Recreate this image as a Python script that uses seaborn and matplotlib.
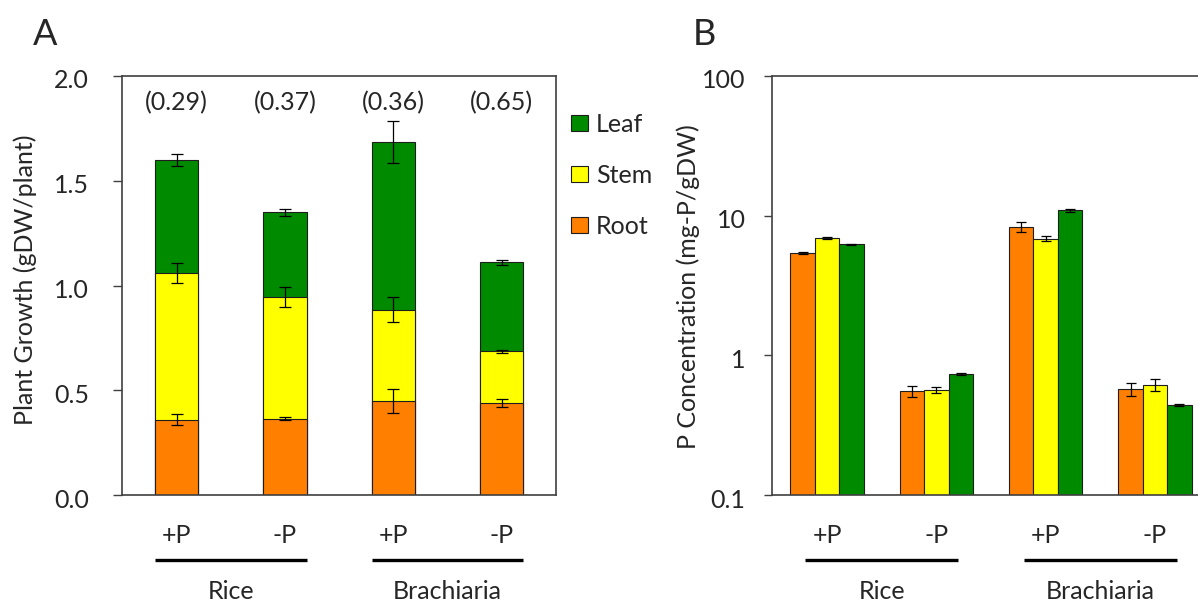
import numpy as np
import pandas as pd
import matplotlib
matplotlib.use("Agg")
import matplotlib.pyplot as plt
from matplotlib.patches import Patch
from matplotlib.transforms import ScaledTranslation
import seaborn as sns

# ---------------- data ----------------
conditions = ["Rice +P", "Rice -P", "Brachiaria +P", "Brachiaria -P"]
treatment_labels = ["+P", "-P", "+P", "-P"]
species = ["Rice", "Brachiaria"]
tissues = ["Root", "Stem", "Leaf"]

# Plant growth (gDW/plant) per tissue
growth_root = [0.36, 0.365, 0.45, 0.44]
growth_stem = [0.70, 0.58, 0.435, 0.245]
growth_leaf = [0.54, 0.405, 0.80, 0.425]
growth_root_err = [0.025, 0.009, 0.058, 0.02]
growth_stem_err = [0.048, 0.05, 0.06, 0.007]
growth_leaf_err = [0.029, 0.016, 0.10, 0.013]
root_shoot_ratio = ["(0.29)", "(0.37)", "(0.36)", "(0.65)"]

# P concentration (mg-P/gDW) per tissue
pconc_root = [5.4, 0.554, 8.3, 0.571]
pconc_stem = [6.95, 0.567, 6.84, 0.616]
pconc_leaf = [6.25, 0.738, 10.9, 0.439]
pconc_root_err = [0.08, 0.05, 0.7, 0.06]
pconc_stem_err = [0.10, 0.03, 0.27, 0.064]
pconc_leaf_err = [0.06, 0.01, 0.3, 0.008]

tissue_colors = {"Root": "#FF7F00", "Stem": "#FFFF00", "Leaf": "#008A00"}

# ---------------- style ----------------
sns.set_style("white")
plt.rcParams["font.family"] = ["Lato", "DejaVu Sans"]
FS = 18
EDGE = "#1e1e1e"
SPINE = "#404040"

W, H = 1198, 602
fig = plt.figure(figsize=(W / 100, H / 100), dpi=100)


def px_rect(left, top, right, bottom):
    return [left / W, 1 - bottom / H, (right - left) / W, (bottom - top) / H]


axA = fig.add_axes(px_rect(122.5, 76, 555.7, 495))
axB = fig.add_axes(px_rect(772.4, 76, 1209.6, 495))

err_kw = dict(fmt="none", ecolor="black", elinewidth=0.9, capthick=0.9, zorder=5)

# ---------------- panel A: stacked growth ----------------
dfA = pd.DataFrame({"condition": conditions,
                    "Root": growth_root, "Stem": growth_stem, "Leaf": growth_leaf})
dfA["Root_top"] = dfA["Root"]
dfA["Stem_top"] = dfA["Root_top"] + dfA["Stem"]
dfA["Leaf_top"] = dfA["Stem_top"] + dfA["Leaf"]
growth_err = {"Root": growth_root_err, "Stem": growth_stem_err, "Leaf": growth_leaf_err}

# draw cumulative totals from the tallest layer down so each segment shows
for tissue in ["Leaf", "Stem", "Root"]:
    sns.barplot(data=dfA, x="condition", y=f"{tissue}_top", order=conditions,
                color=tissue_colors[tissue], width=0.4, saturation=1,
                edgecolor=EDGE, linewidth=0.8, errorbar=None, ax=axA)
    bars = axA.containers[-1]
    centers = [p.get_x() + p.get_width() / 2 for p in bars]
    axA.errorbar(centers, dfA[f"{tissue}_top"], yerr=growth_err[tissue],
                 capsize=4.1, **err_kw)

axA.set_xlim(-0.5, len(conditions) - 0.5)
axA.set_ylim(0, 2.0)
axA.set_yticks([0, 0.5, 1.0, 1.5, 2.0])
axA.set_yticklabels([f"{v:.1f}" for v in [0, 0.5, 1.0, 1.5, 2.0]])
axA.set_xlabel("")
axA.set_ylabel("Plant Growth (gDW/plant)", fontsize=FS, va="center")
axA.yaxis.set_label_coords((25 - 122.5) / 433.2, 0.513)

for i, txt in enumerate(root_shoot_ratio):
    axA.text(i, 0.9356, txt, transform=axA.get_xaxis_transform(),
             ha="center", va="center", fontsize=FS)

legend_handles = [Patch(facecolor=tissue_colors[t], edgecolor=EDGE, linewidth=0.8, label=t)
                  for t in ["Leaf", "Stem", "Root"]]
axA.legend(handles=legend_handles, loc="upper left",
           bbox_to_anchor=(570.7 / W, 1 - 113 / H), bbox_transform=fig.transFigure,
           frameon=False, fontsize=FS, handlelength=0.68, handleheight=0.64,
           handletextpad=0.32, labelspacing=1.12, borderpad=0, borderaxespad=0)

# ---------------- panel B: P concentration (log) ----------------
dfB = pd.DataFrame({
    "condition": conditions * 3,
    "tissue": np.repeat(tissues, len(conditions)),
    "conc": pconc_root + pconc_stem + pconc_leaf,
    "err": pconc_root_err + pconc_stem_err + pconc_leaf_err,
})
axB.set_yscale("log")
sns.barplot(data=dfB, x="condition", y="conc", hue="tissue", order=conditions,
            hue_order=tissues, palette=tissue_colors, width=0.67, saturation=1,
            edgecolor=EDGE, linewidth=0.8, errorbar=None, legend=False, ax=axB)
for tissue, bars in zip(tissues, list(axB.containers)):
    sub = dfB[dfB["tissue"] == tissue].set_index("condition").loc[conditions]
    patches = sorted(bars, key=lambda p: p.get_x())
    centers = [p.get_x() + p.get_width() / 2 for p in patches]
    axB.errorbar(centers, sub["conc"], yerr=sub["err"], capsize=3.85, **err_kw)

axB.set_xlim(-0.5, len(conditions) - 0.5)
axB.set_ylim(0.1, 100)
axB.set_yticks([0.1, 1, 10, 100])
axB.set_yticklabels(["0.1", "1", "10", "100"])
axB.minorticks_off()
axB.set_xlabel("")
axB.set_ylabel("P Concentration (mg-P/gDW)", fontsize=FS, va="center")
axB.yaxis.set_label_coords((688 - 772.4) / 437.2, 0.498)

# ---------------- shared axis styling ----------------
for ax, tick_len, pad in [(axA, 6.5, 17.5), (axB, 5.8, 13.5)]:
    ax.grid(False)
    ax.tick_params(axis="y", direction="out", length=tick_len, width=1.0,
                   color=SPINE, pad=pad, labelsize=FS, left=True)
    ax.tick_params(axis="x", length=0, labelbottom=False)
    for lab in ax.get_yticklabels():
        lab.set_transform(lab.get_transform() +
                          ScaledTranslation(0, -3 / 100, fig.dpi_scale_trans))
    for side in ["left", "top", "bottom", "right"]:
        ax.spines[side].set_visible(True)
        ax.spines[side].set_color(SPINE)
        ax.spines[side].set_linewidth(1.2)

    xt = ax.get_xaxis_transform()
    for i, lab in enumerate(treatment_labels):
        ax.text(i, -0.1153, lab, transform=xt, ha="center", va="baseline", fontsize=FS)
    for g, name in enumerate(species):
        first, last = 2 * g, 2 * g + 1
        ax.plot([first - 0.2, last + 0.2], [-0.155, -0.155], transform=xt,
                color="black", lw=2.4, solid_capstyle="butt", clip_on=False)
        ax.text((first + last) / 2, -0.2482, name, transform=xt,
                ha="center", va="baseline", fontsize=FS)

fig.text(32.5 / W, 1 - 45 / H, "A", fontsize=26, ha="left", va="baseline")
fig.text(692.7 / W, 1 - 45 / H, "B", fontsize=26, ha="left", va="baseline")

fig.savefig("out.png", dpi=100)
